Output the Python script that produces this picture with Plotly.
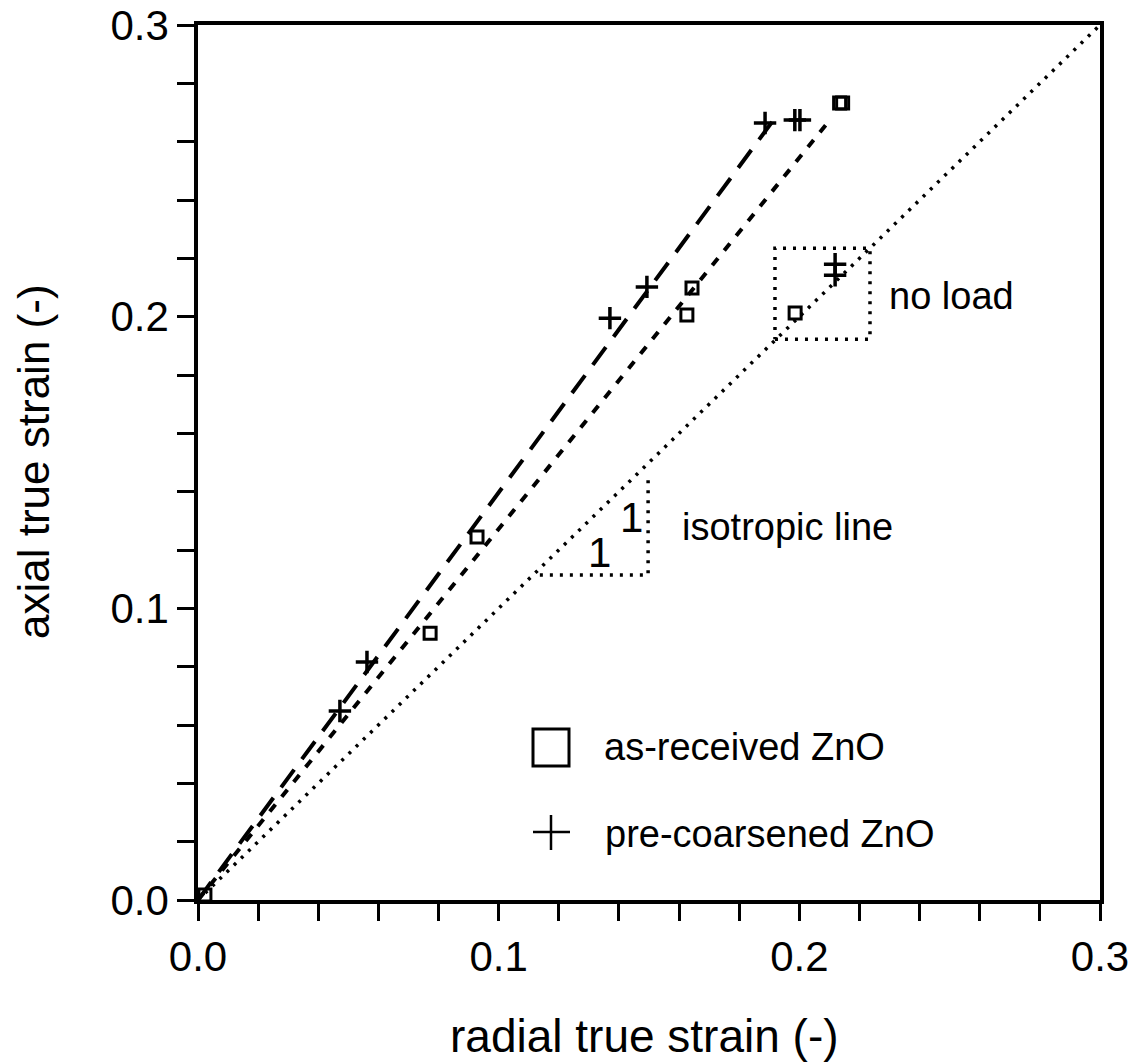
import plotly.graph_objects as go

# Measured strains: as-received ZnO compacts
asrec_radial = [0.0023, 0.0772, 0.0928, 0.1626, 0.1643, 0.2134, 0.2144, 0.1986]
asrec_axial = [0.0017, 0.0915, 0.1245, 0.2006, 0.2098, 0.2733, 0.2733, 0.2013]

# Measured strains: pre-coarsened ZnO compacts
prec_radial = [0.0472, 0.0562, 0.1370, 0.1493, 0.1886, 0.1985, 0.2002, 0.2119, 0.2119]
prec_axial = [0.0648, 0.0816, 0.1995, 0.2102, 0.2664, 0.2674, 0.2674, 0.2180, 0.2142]

# Trend lines through the data
asrec_fit_x = [0.0, 0.2096]
asrec_fit_y = [0.0, 0.2667]
prec_fit_x = [0.0, 0.1926]
prec_fit_y = [0.0, 0.2691]

# Isotropic reference line and slope triangle
iso_x = [0.0, 0.3]
iso_y = [0.0, 0.3]
tri_x = [0.1137, 0.1497, 0.1497]
tri_y = [0.1114, 0.1114, 0.1450]

# "no load" box
box_x = [0.1919, 0.2235, 0.2235, 0.1919, 0.1919]
box_y = [0.1923, 0.1923, 0.2235, 0.2235, 0.1923]

# Axis ticks
tick_vals = [round(0.02 * i, 2) for i in range(16)]
tick_text = ["0.0", "", "", "", "", "0.1", "", "", "", "", "0.2", "", "", "", "", "0.3"]

FONT = "Liberation Sans, Arial, Helvetica, sans-serif"
INK = "black"

fig = go.Figure()

fig.add_trace(go.Scatter(x=iso_x, y=iso_y, mode="lines",
                         line=dict(color=INK, width=3.5, dash="3px,7px")))
fig.add_trace(go.Scatter(x=tri_x, y=tri_y, mode="lines",
                         line=dict(color=INK, width=3.5, dash="3px,7px")))
fig.add_trace(go.Scatter(x=box_x, y=box_y, mode="lines",
                         line=dict(color=INK, width=3.5, dash="3px,7px")))
fig.add_trace(go.Scatter(x=asrec_fit_x, y=asrec_fit_y, mode="lines",
                         line=dict(color=INK, width=4, dash="9px,10px")))
fig.add_trace(go.Scatter(x=prec_fit_x, y=prec_fit_y, mode="lines",
                         line=dict(color=INK, width=4, dash="22px,13px")))

fig.add_trace(go.Scatter(x=asrec_radial, y=asrec_axial, mode="markers",
                         name="as-received ZnO", cliponaxis=False,
                         marker=dict(symbol="square-open", size=12, color=INK,
                                     line=dict(width=3, color=INK))))
fig.add_trace(go.Scatter(x=prec_radial, y=prec_axial, mode="markers",
                         name="pre-coarsened ZnO", cliponaxis=False,
                         marker=dict(symbol="cross-thin-open", size=16, color=INK,
                                     line=dict(width=3.5, color=INK))))

# Hand-drawn legend keys
legend_shapes = [
    dict(type="rect", xref="paper", yref="paper",
         x0=(533 - 198) / 902, x1=(569 - 198) / 902,
         y0=(900 - 766) / 875, y1=(900 - 729) / 875,
         line=dict(color=INK, width=3)),
    dict(type="line", xref="paper", yref="paper",
         x0=(533 - 198) / 902, x1=(570 - 198) / 902,
         y0=(900 - 832) / 875, y1=(900 - 832) / 875,
         line=dict(color=INK, width=2.5)),
    dict(type="line", xref="paper", yref="paper",
         x0=(551 - 198) / 902, x1=(551 - 198) / 902,
         y0=(900 - 850) / 875, y1=(900 - 815) / 875,
         line=dict(color=INK, width=2.5)),
]

annotations = [
    dict(text="as-received ZnO", xref="paper", yref="paper",
         x=(602 - 198) / 902, y=(900 - 747) / 875, xanchor="left", yanchor="middle",
         showarrow=False, font=dict(family=FONT, size=38, color=INK)),
    dict(text="pre-coarsened ZnO", xref="paper", yref="paper",
         x=(603 - 198) / 902, y=(900 - 834) / 875, xanchor="left", yanchor="middle",
         showarrow=False, font=dict(family=FONT, size=38, color=INK)),
    dict(text="isotropic line", x=0.1603, y=0.1279, xanchor="left", yanchor="middle",
         showarrow=False, font=dict(family=FONT, size=38, color=INK)),
    dict(text="no load", x=0.2292, y=0.2071, xanchor="left", yanchor="middle",
         showarrow=False, font=dict(family=FONT, size=38, color=INK)),
    dict(text="1", x=0.1337, y=0.1190, xanchor="center", yanchor="middle",
         showarrow=False, font=dict(family=FONT, size=42, color=INK)),
    dict(text="1", x=0.1443, y=0.1313, xanchor="center", yanchor="middle",
         showarrow=False, font=dict(family=FONT, size=42, color=INK)),
    dict(text="radial true strain (-)", xref="paper", yref="paper",
         x=(644 - 198) / 902, y=(900 - 1036) / 875, xanchor="center", yanchor="middle",
         showarrow=False, font=dict(family=FONT, size=46, color=INK)),
    dict(text="axial true strain (-)", xref="paper", yref="paper",
         x=(33 - 198) / 902, y=(900 - 462) / 875, xanchor="center", yanchor="middle",
         textangle=-90, showarrow=False, font=dict(family=FONT, size=44, color=INK)),
]

axis_common = dict(
    range=[0, 0.3], tickvals=tick_vals, ticktext=tick_text,
    ticks="outside", ticklen=17, tickwidth=3, tickcolor=INK,
    showline=True, linecolor=INK, linewidth=3.5, mirror=True,
    showgrid=False, zeroline=False, automargin=False,
    tickfont=dict(family=FONT, size=42, color=INK),
)

fig.update_layout(
    width=1136, height=1062,
    margin=dict(l=198, r=36, t=25, b=162, autoexpand=False),
    plot_bgcolor="white", paper_bgcolor="white",
    showlegend=False,
    xaxis=dict(**axis_common),
    yaxis=dict(**axis_common),
    shapes=legend_shapes,
    annotations=annotations,
)

fig.write_html("out.html")
